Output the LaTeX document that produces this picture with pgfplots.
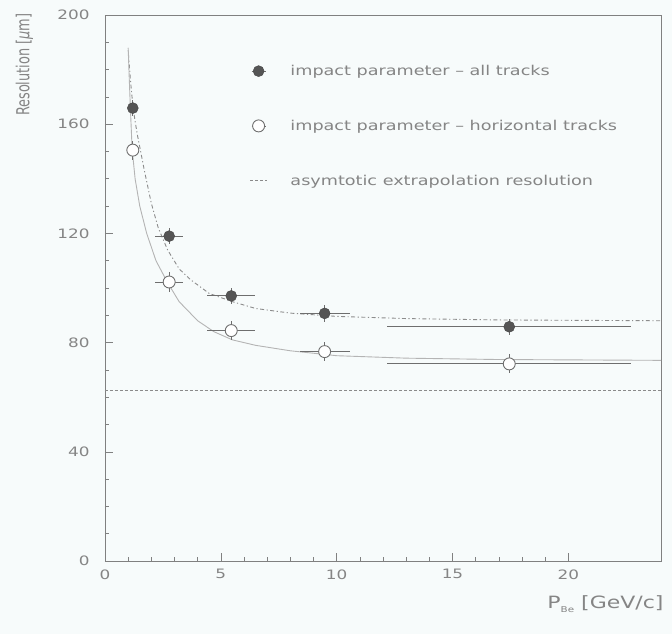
\documentclass[border=0pt]{standalone}
\usepackage{fontspec}
\setmainfont{DejaVu Sans}[FakeStretch=1.3]
\newfontfamily\yfont{DejaVu Sans}[FakeStretch=0.72]
\usepackage{pgfplots}
\pgfplotsset{compat=1.18}
\definecolor{bg}{HTML}{F7FBFB}
\definecolor{txt}{HTML}{858585}
\definecolor{axc}{HTML}{808080}
\definecolor{errc}{HTML}{6E6E6E}
\definecolor{fillc}{HTML}{555555}
\definecolor{curveA}{HTML}{8C8C8C}
\definecolor{curveB}{HTML}{B4B4B4}
\definecolor{hline}{HTML}{8A8A8A}

\pgfplotstableread{
x     y      ex    ey
1.2   165.9  0.20  3
2.77  119.0  0.60  3
5.45  97.1   1.04  3
9.48  90.7   1.08  3
17.45 85.8   5.27  3
}\filled

\pgfplotstableread{
x     y      ex    ey
1.2   150.5  0.20  3.5
2.77  102.2  0.60  3.5
5.45  84.4   1.04  3.5
9.48  76.7   1.08  3.5
17.45 72.2   5.27  3.5
}\openpts

\pgfplotstableread{
x    y
1.0  187
1.1  176
1.2  167
1.3  161
1.4  156
1.7  143
2.0  131
2.3  122
2.7  114
3.2  107
3.7  103
4.5  98
5.5  95
6.5  92.5
8    90.8
10   89.6
13   88.8
17   88.3
24   88
}\curveup

\pgfplotstableread{
x    y
1.0  188
1.05 176
1.1  165
1.17 151
1.3  140
1.5  130
1.8  120
2.2  110
2.7  102
3.2  95
4.0  88
4.7  84
5.5  81
6.5  79
8    77
10   75.2
13   74.3
17   73.8
24   73.5
}\curvelow

\pgfplotstableread{
x   y
0   62.5
24  62.5
}\asym

\begin{document}
\begin{tikzpicture}
\fill[bg] (-105bp,-73bp) rectangle (567bp,561bp);
\begin{axis}[
  at={(0,0)}, anchor=south west,
  scale only axis, width=556bp, height=546bp,
  xmin=0, xmax=24, ymin=0, ymax=200,
  xtick={0,5,10,15,20}, ytick={0,40,80,120,160,200},
  minor x tick num=4, minor y tick num=3,
  tick align=inside, tick pos=left,
  major tick length=8bp, minor tick length=4bp,
  axis line style={axc, line width=0.8pt},
  every tick/.style={axc, line width=0.6pt},
  /pgf/number format/assume math mode=true,
  tick label style={font=\fontsize{13}{15}\selectfont, text=txt},
  xticklabel style={yshift=-5bp},
  yticklabel style={xshift=-12bp},
  xlabel={P\raisebox{-0.35ex}{\fontsize{8}{9}\selectfont Be} [GeV/c]},
  xlabel style={at={(axis description cs:1.005,-0.079)}, anchor=east, font=\fontsize{17}{19}\selectfont, text=txt, inner sep=0pt},
  ylabel={Resolution [{\itshape μ}m]},
  ylabel style={at={(axis description cs:-0.145,1.003)}, anchor=east, font=\yfont\fontsize{18}{20}\selectfont, text=txt, inner sep=0pt},
  legend style={at={(axis description cs:0.26,0.912)}, anchor=north west, draw=none, fill=none,
    font=\fontsize{13.6}{15}\selectfont, text=txt, row sep=39bp, inner sep=0pt,
    /tikz/every odd column/.append style={column sep=21bp}},
  legend cell align=left,
]
\addplot[curveA, line width=0.9pt, dash pattern=on 1.2pt off 2.5pt on 4pt off 2.5pt, forget plot] table[x=x,y=y] {\curveup};
\addplot[curveB, line width=0.9pt, forget plot] table[x=x,y=y] {\curvelow};

\addplot[only marks, mark=*, mark size=5.5bp, mark options={fill=fillc, draw=fillc!80!black},
  legend image code/.code={\draw[errc, line width=0.8pt] (0.05cm,0)--(0.55cm,0);
    \draw[fill=fillc, draw=fillc!80!black] (0.3cm,0cm) circle (5.5bp);},
  error bars/.cd, x dir=both, x explicit, y dir=both, y explicit,
  error bar style={errc, line width=0.9pt}, error mark=none]
  table[x=x, y=y, x error=ex, y error=ey] {\filled};
\addlegendentry{impact parameter -- all tracks}

\addplot[only marks, mark=*, mark size=6bp, mark options={fill=white, draw=errc, line width=0.9pt},
  legend image code/.code={\draw[errc, line width=0.8pt] (0.05cm,0)--(0.55cm,0);
    \draw[fill=white, draw=errc, line width=0.9pt] (0.3cm,0cm) circle (6bp);},
  error bars/.cd, x dir=both, x explicit, y dir=both, y explicit,
  error bar style={errc, line width=0.9pt}, error mark=none]
  table[x=x, y=y, x error=ex, y error=ey] {\openpts};
\addlegendentry{impact parameter -- horizontal tracks}

\addplot[hline, line width=0.7pt, dash pattern=on 3pt off 2pt,
  legend image code/.code={\draw[hline, line width=0.7pt, dash pattern=on 3pt off 2pt] (0cm,0cm)--(0.6cm,0cm);}] table[x=x,y=y] {\asym};
\addlegendentry{asymtotic extrapolation resolution}
\end{axis}
\end{tikzpicture}
\end{document}
